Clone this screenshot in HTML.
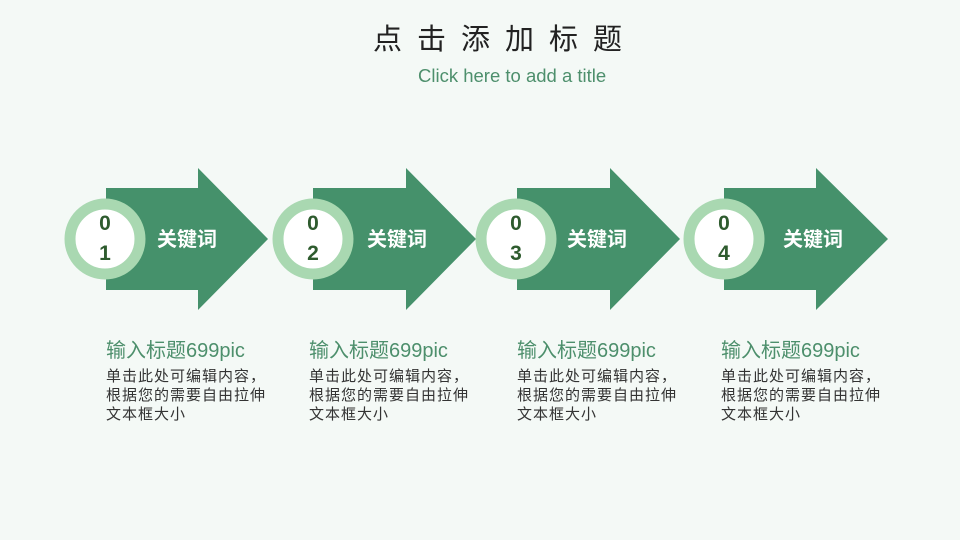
<!DOCTYPE html>
<html><head><meta charset="utf-8"><style>
body{margin:0;width:960px;height:540px;background:#f4f9f6;position:relative;overflow:hidden;font-family:"Liberation Sans","Noto Sans CJK SC",sans-serif}
.t{position:absolute;left:0;width:960px;text-align:center}
.abs{position:absolute}
.kw{position:absolute;color:#fff;font-size:20px;font-weight:bold;top:223px}
.h{position:absolute;color:#4d8f6c;font-size:20px;top:334px}
.p{position:absolute;color:#333;font-size:15px;line-height:19px;top:367px;letter-spacing:1px}
.n{position:absolute;width:58px;text-align:center;color:#2e5b2e;font-weight:bold;font-size:21px;line-height:30px;top:209px}
</style></head><body>
<div class="abs" style="top:16px;left:373px;font-size:29px;letter-spacing:15px;color:#222;white-space:nowrap">点击添加标题</div>
<div class="abs" style="top:65px;font-size:18.5px;color:#4d8f6c;left:418px;white-space:nowrap">Click here to add a title</div>
<svg class="abs" style="left:0;top:0" width="960" height="540">
<g fill="#45916b">
<polygon points="106,188 198,188 198,168 268,239 198,310 198,290 106,290"/>
<polygon points="313,188 406,188 406,168 476,239 406,310 406,290 313,290"/>
<polygon points="517,188 610,188 610,168 680,239 610,310 610,290 517,290"/>
<polygon points="724,188 816,188 816,168 888,239 816,310 816,290 724,290"/>
</g>
<g fill="#fff" stroke="#a9d8b1" stroke-width="11">
<circle cx="105" cy="239" r="35"/><circle cx="313" cy="239" r="35"/>
<circle cx="516" cy="239" r="35"/><circle cx="724" cy="239" r="35"/>
</g></svg>
<div class="n" style="left:76px">0<br>1</div>
<div class="n" style="left:284px">0<br>2</div>
<div class="n" style="left:487px">0<br>3</div>
<div class="n" style="left:695px">0<br>4</div>
<div class="kw" style="left:157px">关键词</div>
<div class="kw" style="left:367px">关键词</div>
<div class="kw" style="left:567px">关键词</div>
<div class="kw" style="left:783px">关键词</div>
<div class="h" style="left:106px">输入标题699pic</div>
<div class="h" style="left:309px">输入标题699pic</div>
<div class="h" style="left:517px">输入标题699pic</div>
<div class="h" style="left:721px">输入标题699pic</div>
<div class="p" style="left:106px">单击此处可编辑内容，<br>根据您的需要自由拉伸<br>文本框大小</div>
<div class="p" style="left:309px">单击此处可编辑内容，<br>根据您的需要自由拉伸<br>文本框大小</div>
<div class="p" style="left:517px">单击此处可编辑内容，<br>根据您的需要自由拉伸<br>文本框大小</div>
<div class="p" style="left:721px">单击此处可编辑内容，<br>根据您的需要自由拉伸<br>文本框大小</div>
</body></html>
